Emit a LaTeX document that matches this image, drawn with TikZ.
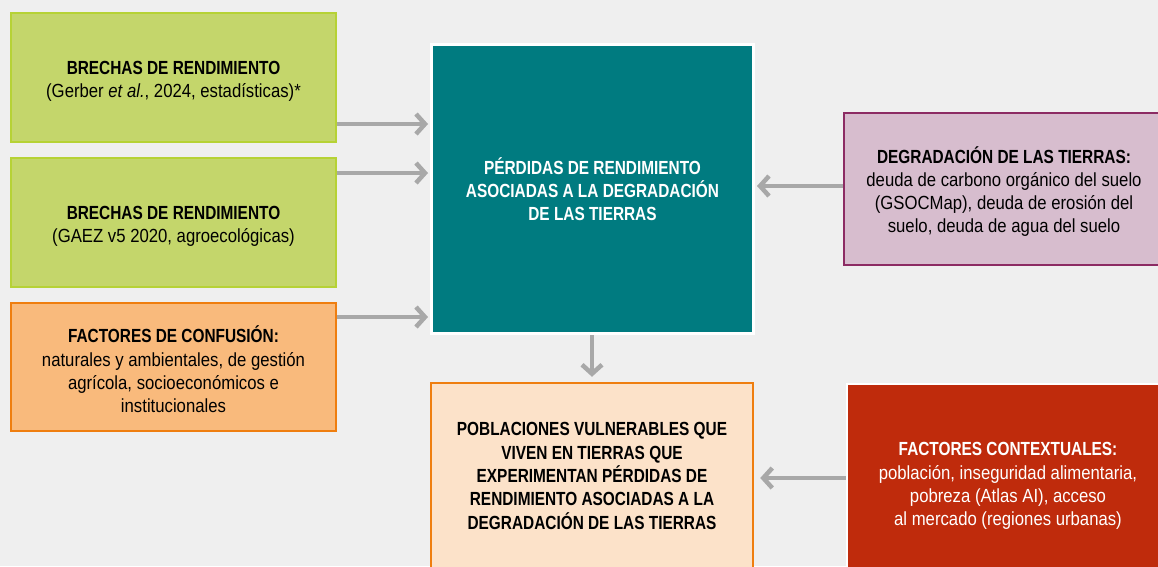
\documentclass[tikz,border=0pt]{standalone}
\usepackage{fontspec}
\setmainfont{Liberation Sans}[FakeStretch=0.88,BoldFeatures={FakeStretch=0.81},ItalicFeatures={FakeStretch=0.88}]
\usetikzlibrary{arrows.meta}
\definecolor{bg}{HTML}{EFEFEF}
\definecolor{tealc}{HTML}{007B80}
\definecolor{greenf}{HTML}{C4D66B}
\definecolor{greenb}{HTML}{B6D235}
\definecolor{orangef}{HTML}{F9BA7C}
\definecolor{orangeb}{HTML}{EF7E0F}
\definecolor{purplef}{HTML}{D7BDCE}
\definecolor{purpleb}{HTML}{8C2B63}
\definecolor{peachf}{HTML}{FCE2C9}
\definecolor{redf}{HTML}{BF2B0C}
\definecolor{arrowc}{HTML}{A8A8A8}
\tikzset{
  box/.style={draw, line width=2.5pt, align=center, inner sep=0pt,
    font=\fontsize{19}{23.3}\selectfont},
  txt/.style={align=center, inner sep=0pt, font=\fontsize{19}{23.3}\selectfont},
  conn/.style={draw=arrowc, line width=4.5pt,
    -{Straight Barb[length=9pt,width=20pt]}},
}
\begin{document}
\begin{tikzpicture}[x=1pt,y=-1pt]
\useasboundingbox[fill=bg] (0,0) rectangle (1158,566);
\node[box, draw=greenb, fill=greenf, minimum width=325pt, minimum height=129pt] (g1) at (173.5,77.5) {};
\node[txt] (g1t) at ([yshift=-3.5pt]g1.center)
  {\textbf{BRECHAS DE RENDIMIENTO}\\(Gerber \textit{et al.}, 2024, estadísticas)*};
\node[box, draw=greenb, fill=greenf, minimum width=325pt, minimum height=129pt] (g2) at (173.5,222.5) {};
\node[txt] (g2t) at ([yshift=-3.5pt]g2.center)
  {\textbf{BRECHAS DE RENDIMIENTO}\\(GAEZ v5 2020, agroecológicas)};
\node[box, draw=orangeb, fill=orangef, minimum width=325pt, minimum height=128pt] (of) at (173.5,367) {};
\node[txt] (oft) at ([yshift=-2.5pt]of.center)
  {\textbf{FACTORES DE CONFUSIÓN:}\\naturales y ambientales, de gestión\\agrícola, socioeconómicos e\\institucionales};
\node[box, draw=white, line width=3pt, fill=tealc, text=white, minimum width=322pt, minimum height=289pt] (tl) at (592.5,189)
  {\textbf{PÉRDIDAS DE RENDIMIENTO}\\\textbf{ASOCIADAS A LA DEGRADACIÓN}\\\textbf{DE LAS TIERRAS}};
\node[box, draw=purpleb, fill=purplef, minimum width=320pt, minimum height=152pt] (pu) at (1004,189) {};
\node[txt] (put) at ([yshift=-2.5pt]pu.center)
  {\textbf{DEGRADACIÓN DE LAS TIERRAS:}\\deuda de carbono orgánico del suelo\\(GSOCMap), deuda de erosión del\\suelo, deuda de agua del suelo};
\node[box, draw=orangeb, fill=peachf, minimum width=322pt, minimum height=186pt] (pe) at (592,476)
  {\textbf{POBLACIONES VULNERABLES QUE}\\\textbf{VIVEN EN TIERRAS QUE}\\\textbf{EXPERIMENTAN PÉRDIDAS DE}\\\textbf{RENDIMIENTO ASOCIADAS A LA}\\\textbf{DEGRADACIÓN DE LAS TIERRAS}};
\node[box, draw=white, fill=redf, text=white, minimum width=322pt, minimum height=204pt] (rd) at (1008,486)
  {\textbf{FACTORES CONTEXTUALES:}\\población, inseguridad alimentaria,\\pobreza (Atlas AI), acceso\\al mercado (regiones urbanas)};
\draw[conn] (g1.south east |- 0,124) -- ([xshift=-2pt]tl.west |- 0,124);
\draw[conn] (g2.north east |- 0,173) -- ([xshift=-2pt]tl.west |- 0,173);
\draw[conn] (of.north east |- 0,317) -- ([xshift=-2pt]tl.west |- 0,317);
\draw[conn] (tl.south -| 592,0) -- ([yshift=5pt]pe.north -| 592,0);
\draw[conn] (pu.west |- 0,186) -- ([xshift=2pt]tl.east |- 0,186);
\draw[conn] (rd.west |- 0,478) -- ([xshift=6pt]pe.east |- 0,478);
\end{tikzpicture}
\end{document}
